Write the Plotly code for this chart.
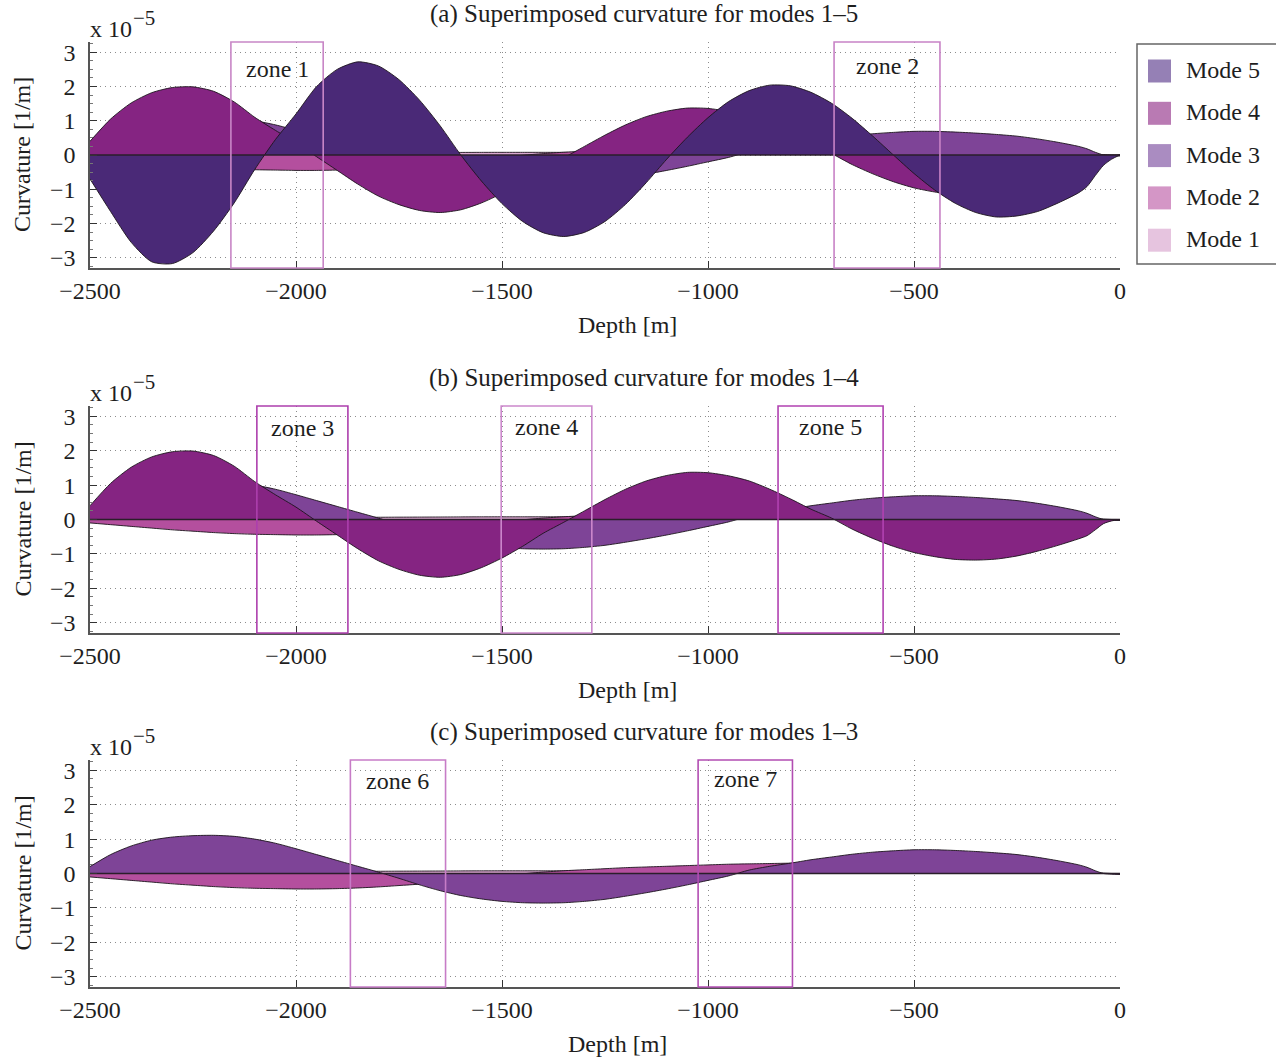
import plotly.graph_objects as go

# ---------------------------------------------------------------- data
# Depth sample positions [m] (shared by every mode shape)
DEPTH = [-2500, -2450, -2400, -2350, -2300, -2250, -2200, -2150, -2100, -2050,
         -2000, -1950, -1900, -1850, -1800, -1750, -1700, -1650, -1600, -1550,
         -1500, -1450, -1400, -1350, -1300, -1250, -1200, -1150, -1100, -1050,
         -1000, -950, -900, -850, -800, -750, -700, -650, -600, -550,
         -500, -450, -400, -350, -300, -250, -200, -150, -100, -80,
         -60, -40, -20, 0]

# Modal curvature [1/m], in units of 1e-5
MODE_1 = [0.00, 0.005, 0.01, 0.015, 0.02, 0.025, 0.03, 0.035, 0.04, 0.045,
          0.05, 0.055, 0.06, 0.062, 0.065, 0.068, 0.07, 0.072, 0.075, 0.077,
          0.078, 0.078, 0.078, 0.077, 0.075, 0.073, 0.07, 0.068, 0.065, 0.062,
          0.06, 0.057, 0.054, 0.051, 0.048, 0.045, 0.042, 0.039, 0.036, 0.033,
          0.03, 0.027, 0.024, 0.021, 0.018, 0.015, 0.012, 0.009, 0.006, 0.005,
          0.004, 0.003, 0.001, 0.0]
MODE_2 = [-0.10, -0.15, -0.20, -0.25, -0.30, -0.34, -0.38, -0.41, -0.43, -0.44,
          -0.45, -0.45, -0.44, -0.42, -0.39, -0.35, -0.31, -0.26, -0.20, -0.14,
          -0.08, -0.01, 0.04, 0.08, 0.11, 0.14, 0.17, 0.19, 0.21, 0.23,
          0.25, 0.27, 0.28, 0.29, 0.30, 0.30, 0.30, 0.29, 0.28, 0.27,
          0.26, 0.24, 0.22, 0.20, 0.18, 0.16, 0.13, 0.10, 0.07, 0.05,
          0.03, 0.01, 0.00, 0.00]
MODE_3 = [0.20, 0.55, 0.80, 0.97, 1.06, 1.10, 1.11, 1.08, 1.00, 0.88,
          0.72, 0.55, 0.38, 0.21, 0.04, -0.14, -0.33, -0.50, -0.64, -0.74,
          -0.81, -0.85, -0.86, -0.85, -0.81, -0.75, -0.66, -0.56, -0.45, -0.33,
          -0.20, -0.07, 0.10, 0.21, 0.30, 0.40, 0.48, 0.56, 0.62, 0.66,
          0.69, 0.69, 0.67, 0.64, 0.60, 0.55, 0.47, 0.37, 0.25, 0.18,
          0.08, 0.00, -0.02, -0.03]
MODE_4 = [0.40, 1.05, 1.52, 1.82, 1.97, 1.99, 1.86, 1.55, 1.10, 0.72,
          0.36, -0.05, -0.45, -0.85, -1.20, -1.45, -1.62, -1.68, -1.60, -1.40,
          -1.12, -0.78, -0.40, -0.08, 0.25, 0.58, 0.88, 1.12, 1.28, 1.37,
          1.36, 1.27, 1.12, 0.88, 0.60, 0.30, 0.04, -0.28, -0.55, -0.78,
          -0.96, -1.08, -1.16, -1.18, -1.15, -1.06, -0.92, -0.75, -0.56, -0.47,
          -0.30, -0.12, -0.04, 0.00]
MODE_5 = [-0.70, -1.65, -2.55, -3.12, -3.17, -2.85, -2.22, -1.40, -0.42, 0.45,
          1.20, 2.00, 2.50, 2.72, 2.60, 2.20, 1.60, 0.85, 0.00, -0.76,
          -1.42, -1.94, -2.27, -2.38, -2.26, -1.94, -1.44, -0.81, -0.12, 0.52,
          1.09, 1.56, 1.88, 2.04, 2.02, 1.83, 1.51, 1.07, 0.55, 0.00,
          -0.54, -1.02, -1.41, -1.68, -1.81, -1.78, -1.65, -1.40, -1.10, -0.92,
          -0.60, -0.30, -0.12, 0.00]

MODES = [MODE_1, MODE_2, MODE_3, MODE_4, MODE_5]
MODE_NAMES = ["Mode 1", "Mode 2", "Mode 3", "Mode 4", "Mode 5"]

PANEL_TITLES = ["(a) Superimposed curvature for modes 1\u20135",
                "(b) Superimposed curvature for modes 1\u20134",
                "(c) Superimposed curvature for modes 1\u20133"]
PANEL_MODE_COUNT = [5, 4, 3]

# Highlighted depth windows: (label, panel index, start depth, end depth)
ZONES = [("zone 1", 0, -2158, -1934),
         ("zone 2", 0, -694, -437),
         ("zone 3", 1, -2095, -1874),
         ("zone 4", 1, -1502, -1282),
         ("zone 5", 1, -830, -575),
         ("zone 6", 2, -1868, -1637),
         ("zone 7", 2, -1024, -795)]

X_TICKS = [-2500, -2000, -1500, -1000, -500, 0]
Y_TICKS = [-3, -2, -1, 0, 1, 2, 3]

# ---------------------------------------------------------------- style
W, H = 1276, 1059
FONT = "Liberation Serif"
FONT_SIZE = 24
TEXT_COLOR = "#1e1e1e"

FILL_COLORS = ["#dba8d1", "#b44f9e", "#7e4497", "#852482", "#4a2977"]
LEGEND_COLORS = ["#e6c4df", "#d496c6", "#aa8cc1", "#b97ab3", "#9580b5"]
OUTLINE = "#1c141c"
ZONE_COLORS = ["#c886c6", "#c882c6", "#ad3fad", "#cc88cc", "#b142b1",
               "#c77cc7", "#b24db2"]
GRID = dict(showgrid=True, gridcolor="#8c8c8c", griddash="1px,4px",
            gridwidth=1)

# panel geometry in page pixels: (top, bottom) of each plotting area
PLOT_LEFT, PLOT_RIGHT = 90, 1120
PANEL_BOX = [(42, 268), (406, 633), (760, 987)]
ZONE_LABEL_DY = [27, 24, 22, 21, 21, 21, 19]   # label offset below plot top
X_LABEL_POS = [627, 627, 617]


def px(xp):
    return xp / W


def py(yp):
    return 1 - yp / H


fig = go.Figure()

for p in range(3):
    xa = "x" if p == 0 else f"x{p + 1}"
    ya = "y" if p == 0 else f"y{p + 1}"
    # area plots, lower modes first so the higher modes sit on top
    for k in range(PANEL_MODE_COUNT[p]):
        fig.add_trace(go.Scatter(
            x=DEPTH, y=MODES[k], xaxis=xa, yaxis=ya,
            mode="lines", fill="tozeroy", fillcolor=FILL_COLORS[k],
            line=dict(color=OUTLINE, width=0.9, shape="spline", smoothing=0.7),
            name=MODE_NAMES[k], showlegend=False, hoverinfo="skip"))
    # area baseline
    fig.add_trace(go.Scatter(
        x=[DEPTH[0], DEPTH[-1]], y=[0, 0], xaxis=xa, yaxis=ya, mode="lines",
        line=dict(color="#2a1e2a", width=1.6), showlegend=False,
        hoverinfo="skip"))

axis_font = dict(family=FONT, size=FONT_SIZE, color=TEXT_COLOR)
title_font = dict(family=FONT, size=25, color=TEXT_COLOR)
layout = dict(
    width=W, height=H,
    margin=dict(l=0, r=0, t=0, b=0, pad=0, autoexpand=False),
    paper_bgcolor="white", plot_bgcolor="white",
    font=axis_font, showlegend=False,
)
for p in range(3):
    top, bot = PANEL_BOX[p]
    sfx = "" if p == 0 else str(p + 1)
    layout["xaxis" + sfx] = dict(
        domain=[px(PLOT_LEFT), px(PLOT_RIGHT)], anchor="y" + sfx,
        range=[-2500, 0], tickvals=X_TICKS, ticks="inside", ticklen=7,
        tickcolor="#333", tickwidth=1, showline=True, linecolor="#555",
        linewidth=1.5, zeroline=False, tickfont=axis_font,
        ticklabelstandoff=0, automargin=False, **GRID)
    layout["yaxis" + sfx] = dict(
        domain=[py(bot), py(top)], anchor="x" + sfx,
        range=[-3.3, 3.3], tickvals=Y_TICKS, ticks="inside", ticklen=7,
        tickcolor="#333", tickwidth=1, showline=True, linecolor="#555",
        linewidth=1.5, zeroline=False, tickfont=axis_font,
        ticklabelstandoff=8, automargin=False,
        minor=dict(ticks="inside", ticklen=3, dtick=0.25, tickcolor="#777",
                   showgrid=False), **GRID)
fig.update_layout(**layout)

ann = []
shapes = []
for p in range(3):
    top, bot = PANEL_BOX[p]
    ann.append(dict(text=PANEL_TITLES[p], x=px(644), y=py(top - 28),
                    xref="paper", yref="paper", showarrow=False,
                    xanchor="center", yanchor="middle", font=title_font))
    ann.append(dict(text="Curvature [1/m]", x=px(22), y=py((top + bot) / 2),
                    xref="paper", yref="paper", showarrow=False,
                    textangle=-90, xanchor="center", yanchor="middle",
                    font=axis_font))
    ann.append(dict(text="Depth [m]", x=px(X_LABEL_POS[p]), y=py(bot + 57),
                    xref="paper", yref="paper", showarrow=False,
                    xanchor="center", yanchor="middle", font=axis_font))
    # axis multiplier "x 10^-5" above the curvature axis
    ann.append(dict(text="x 10", x=px(88), y=py(top - 13),
                    xref="paper", yref="paper", showarrow=False,
                    xanchor="left", yanchor="middle", font=axis_font))
    ann.append(dict(text="\u22125", x=px(131), y=py(top - 24),
                    xref="paper", yref="paper", showarrow=False,
                    xanchor="left", yanchor="middle",
                    font=dict(family=FONT, size=21, color=TEXT_COLOR)))

for i, (label, p, d0, d1) in enumerate(ZONES):
    sfx = "" if p == 0 else str(p + 1)
    top, bot = PANEL_BOX[p]
    shapes.append(dict(type="rect", xref="x" + sfx, yref=f"y{sfx} domain",
                       x0=d0, x1=d1, y0=0, y1=1, layer="above",
                       line=dict(color=ZONE_COLORS[i], width=1.6),
                       fillcolor="rgba(0,0,0,0)"))
    ann.append(dict(text=label, x=(d0 + d1) / 2, y=py(top + ZONE_LABEL_DY[i]),
                    xref="x" + sfx, yref="paper", showarrow=False,
                    xanchor="center", yanchor="middle", font=axis_font))

# legend box (modes listed from highest to lowest)
shapes.append(dict(type="rect", xref="paper", yref="paper",
                   x0=px(1137), x1=px(1290), y0=py(264), y1=py(44),
                   line=dict(color="#666", width=1.5), fillcolor="white",
                   layer="above"))
for row, k in enumerate(reversed(range(5))):
    yc = 71 + row * 42.3
    shapes.append(dict(type="rect", xref="paper", yref="paper",
                       x0=px(1148), x1=px(1171), y0=py(yc + 11.5),
                       y1=py(yc - 11.5), line=dict(width=0),
                       fillcolor=LEGEND_COLORS[k], layer="above"))
    ann.append(dict(text=MODE_NAMES[k], x=px(1184), y=py(yc - 1), xref="paper",
                    yref="paper", showarrow=False, xanchor="left",
                    yanchor="middle", font=axis_font))

fig.update_layout(annotations=ann, shapes=shapes)
fig.write_html("out.html")
